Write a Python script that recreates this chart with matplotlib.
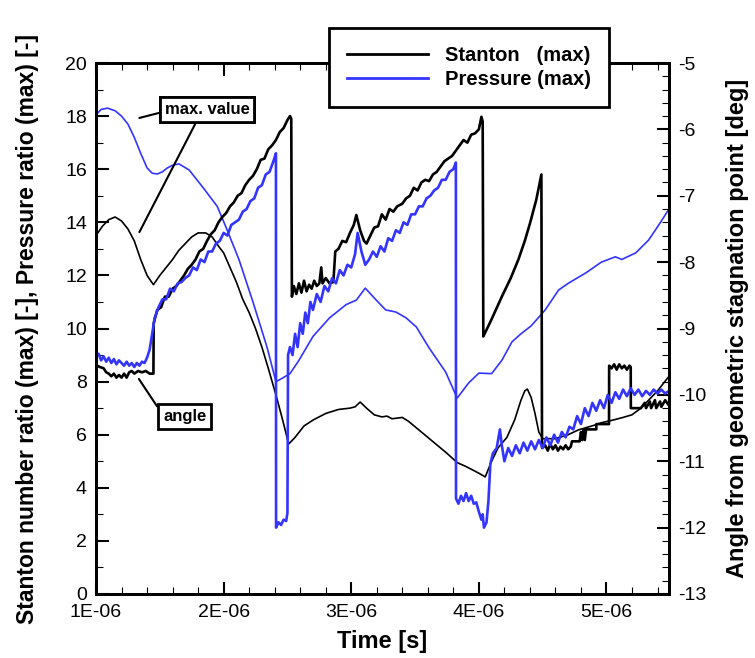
import numpy as np
import matplotlib
matplotlib.use("Agg")
import matplotlib.pyplot as plt

plt.rcParams['font.family'] = ['Liberation Sans', 'DejaVu Sans']
plt.rcParams['axes.unicode_minus'] = False

# --- data (time in microseconds) ---
# Stanton number ratio (max), left axis
t_st_max = [1.00, 1.05, 1.10, 1.15, 1.20, 1.25, 1.30, 1.35, 1.40, 1.45, 1.50, 1.55, 1.60, 1.65, 1.70,
            1.75, 1.80, 1.86, 1.91, 1.96, 2.00, 2.05, 2.10, 2.15, 2.20, 2.25, 2.30, 2.35, 2.41, 2.46,
            2.51, 2.56, 2.63, 2.70, 2.80, 2.90, 2.99, 3.03, 3.07, 3.12, 3.18, 3.24, 3.28, 3.32, 3.40,
            3.45, 3.55, 3.65, 3.75, 3.83, 3.90, 4.00, 4.05, 4.10, 4.15, 4.22, 4.28, 4.33, 4.36, 4.38,
            4.41, 4.44, 4.47, 4.50, 4.60, 4.70, 4.78, 4.90, 4.96, 5.05, 5.13, 5.20, 5.27, 5.33, 5.40,
            5.49]
st_max = [13.5, 13.85, 14.1, 14.2, 14.05, 13.75, 13.3, 12.6, 12.0, 11.65, 12.0, 12.3, 12.6, 12.95, 13.2,
          13.45, 13.6, 13.6, 13.45, 13.1, 12.85, 12.3, 11.75, 11.1, 10.6, 10.0, 9.3, 8.5, 7.5, 6.6,
          5.65, 5.9, 6.33, 6.55, 6.8, 6.95, 7.0, 7.05, 7.23, 7.0, 6.75, 6.67, 6.7, 6.6, 6.65,
          6.5, 6.1, 5.7, 5.3, 4.95, 4.8, 4.55, 4.41, 5.0, 5.5, 5.9, 6.55, 7.3, 7.65, 7.72,
          7.4, 6.8, 6.1, 5.85, 5.85, 6.0, 6.18, 6.35, 6.45, 6.55, 6.65, 6.75, 7.0, 7.3, 7.65,
          8.2]

# Pressure ratio (max), left axis
t_pr_max = [1.00, 1.04, 1.09, 1.15, 1.20, 1.25, 1.30, 1.35, 1.40, 1.44, 1.48, 1.52, 1.56, 1.60, 1.65,
            1.73, 1.84, 1.95, 2.02, 2.12, 2.23, 2.34, 2.41, 2.45, 2.52, 2.59, 2.70, 2.83, 2.96, 3.04,
            3.11, 3.19, 3.27, 3.35, 3.43, 3.51, 3.61, 3.74, 3.83, 3.92, 4.00, 4.10, 4.18, 4.26, 4.33,
            4.41, 4.52, 4.625, 4.70, 4.84, 4.96, 5.07, 5.12, 5.23, 5.33, 5.41, 5.49]
pr_max = [18.05, 18.25, 18.3, 18.2, 18.0, 17.7, 17.2, 16.6, 16.05, 15.85, 15.82, 15.9, 16.05, 16.15, 16.2,
          15.97, 15.3, 14.6, 13.8, 12.6, 11.0, 9.3, 8.0, 8.1, 8.3, 8.8, 9.7, 10.4, 10.9, 11.07,
          11.52, 11.1, 10.7, 10.62, 10.4, 10.06, 9.27, 8.36, 7.38, 7.95, 8.32, 8.3, 8.8, 9.5, 9.8,
          10.1, 10.7, 11.45, 11.7, 12.1, 12.5, 12.7, 12.6, 12.85, 13.33, 13.9, 14.5]

# Stanton max location angle [deg], right axis
t_st_ang = [1.00, 1.03, 1.06, 1.08, 1.10, 1.12, 1.14, 1.16, 1.18, 1.20, 1.22, 1.24, 1.26, 1.28, 1.30,
            1.33, 1.36, 1.39, 1.42, 1.45,
            1.452, 1.48, 1.51, 1.54, 1.57, 1.60, 1.63, 1.66, 1.69, 1.72, 1.75, 1.78, 1.81, 1.84, 1.87,
            1.90, 1.93, 1.96, 1.99, 2.02, 2.05, 2.08, 2.11, 2.14, 2.17, 2.20, 2.23, 2.26, 2.29, 2.32,
            2.35, 2.38, 2.41, 2.44, 2.47, 2.50, 2.52, 2.53,
            2.535, 2.55, 2.57, 2.59, 2.61, 2.63, 2.65, 2.67, 2.69, 2.71, 2.73, 2.75, 2.765, 2.775, 2.80,
            2.83, 2.86, 2.875, 2.90, 2.93, 2.96, 2.99, 3.02, 3.04, 3.07, 3.10, 3.12, 3.15, 3.18, 3.21,
            3.24, 3.27, 3.30, 3.33, 3.36, 3.40, 3.43, 3.46, 3.49, 3.52, 3.55, 3.58, 3.61, 3.64, 3.67,
            3.70, 3.73, 3.76, 3.79, 3.82, 3.85, 3.88, 3.91, 3.94, 3.97, 4.00, 4.02, 4.03,
            4.035, 4.10, 4.18, 4.25, 4.31, 4.36, 4.40, 4.45, 4.49,
            4.495, 4.52, 4.54, 4.56, 4.58, 4.60, 4.62, 4.64, 4.66, 4.68, 4.70, 4.72, 4.73, 4.79, 4.80,
            4.81, 4.82, 4.83, 4.84, 4.85, 4.92, 4.921, 5.02, 5.021, 5.04, 5.06, 5.08, 5.10, 5.12, 5.14,
            5.16, 5.18, 5.19, 5.191, 5.24, 5.27, 5.30, 5.31, 5.34, 5.35, 5.38, 5.39, 5.42, 5.43, 5.46,
            5.49]
st_ang = [-9.55, -9.58, -9.60, -9.66, -9.68, -9.72, -9.68, -9.74, -9.70, -9.74, -9.68, -9.74, -9.66, -9.64, -9.68,
          -9.64, -9.66, -9.64, -9.68, -9.68,
          -8.92, -8.72, -8.68, -8.52, -8.52, -8.40, -8.36, -8.28, -8.20, -8.10, -8.04, -7.96, -7.84, -7.80, -7.68,
          -7.58, -7.52, -7.40, -7.32, -7.26, -7.16, -7.10, -7.00, -6.96, -6.84, -6.76, -6.70, -6.60, -6.46, -6.44,
          -6.30, -6.24, -6.16, -6.04, -5.98, -5.86, -5.80, -5.84,
          -8.52, -8.36, -8.48, -8.32, -8.46, -8.28, -8.44, -8.34, -8.40, -8.28, -8.36, -8.32, -8.08, -8.32, -8.24,
          -8.32, -8.30, -7.84, -7.80, -7.68, -7.70, -7.56, -7.44, -7.29, -7.52, -7.68, -7.72, -7.60, -7.48, -7.46,
          -7.28, -7.36, -7.20, -7.24, -7.16, -7.12, -7.04, -7.00, -6.88, -6.92, -6.80, -6.76, -6.78, -6.68, -6.64,
          -6.56, -6.48, -6.44, -6.40, -6.32, -6.24, -6.16, -6.20, -6.08, -6.06, -6.00, -5.81, -5.88,
          -9.12, -8.86, -8.52, -8.24, -7.96, -7.68, -7.42, -7.06, -6.68,
          -10.80, -10.76, -10.84, -10.74, -10.82, -10.76, -10.84, -10.78, -10.82, -10.76, -10.82, -10.78, -10.70, -10.70, -10.56,
          -10.68, -10.52, -10.68, -10.52, -10.52, -10.52, -10.44, -10.44, -9.56, -9.60, -9.54, -9.62, -9.54, -9.60, -9.56,
          -9.62, -9.56, -9.58, -10.20, -10.20, -10.20, -10.12, -10.20, -10.10, -10.20, -10.08, -10.20, -10.10, -10.18, -10.08,
          -10.16]

# Pressure max location angle [deg], right axis
t_pr_ang = [1.00, 1.02, 1.04, 1.06, 1.08, 1.10, 1.12, 1.14, 1.16, 1.18, 1.20, 1.22, 1.24, 1.26, 1.28,
            1.30, 1.32, 1.34, 1.36, 1.38, 1.40, 1.42, 1.44, 1.46, 1.49, 1.52,
            1.55, 1.58, 1.61, 1.64, 1.67, 1.70, 1.73, 1.76, 1.79, 1.82, 1.85, 1.88, 1.91, 1.94, 1.97,
            2.00, 2.03, 2.06, 2.09, 2.12, 2.15, 2.18, 2.21, 2.24, 2.27, 2.30, 2.33, 2.36, 2.39, 2.41,
            2.411, 2.43, 2.45, 2.47, 2.49, 2.50,
            2.505, 2.52, 2.54, 2.56, 2.58, 2.60, 2.62, 2.64, 2.66, 2.68, 2.70, 2.73, 2.76, 2.79, 2.82,
            2.85, 2.88, 2.91, 2.94, 2.97, 3.00, 3.03, 3.05, 3.08, 3.11, 3.14, 3.17, 3.20, 3.23, 3.26,
            3.29, 3.32, 3.35, 3.38, 3.41, 3.44, 3.47, 3.50, 3.53, 3.56, 3.59, 3.62, 3.65, 3.68, 3.71,
            3.74, 3.77, 3.80, 3.82,
            3.821, 3.84, 3.86, 3.88, 3.90, 3.92, 3.94, 3.96, 3.98, 4.00, 4.02, 4.03, 4.04, 4.06, 4.075,
            4.09, 4.11, 4.14, 4.165, 4.18, 4.20, 4.23, 4.26, 4.29, 4.32, 4.35, 4.38, 4.41, 4.44, 4.47,
            4.50, 4.53, 4.56, 4.59, 4.62, 4.65, 4.68, 4.71, 4.74, 4.77, 4.80, 4.83, 4.86, 4.89, 4.92,
            4.95, 4.98, 5.01, 5.04, 5.07, 5.10, 5.13, 5.16, 5.19, 5.22, 5.25, 5.28, 5.31, 5.34, 5.37,
            5.40, 5.43, 5.46, 5.49]
pr_ang = [-9.42, -9.38, -9.48, -9.42, -9.50, -9.44, -9.52, -9.46, -9.54, -9.48, -9.52, -9.56, -9.50, -9.56, -9.52,
          -9.58, -9.52, -9.56, -9.50, -9.52, -9.44, -9.32, -9.08, -8.84, -8.68, -8.56,
          -8.56, -8.40, -8.44, -8.32, -8.30, -8.24, -8.20, -8.08, -8.12, -7.96, -8.00, -7.84, -7.84, -7.72, -7.68,
          -7.56, -7.60, -7.44, -7.40, -7.36, -7.24, -7.20, -7.08, -7.04, -6.88, -6.84, -6.68, -6.64, -6.48, -6.36,
          -12.00, -11.92, -11.96, -11.88, -11.90, -11.78,
          -9.40, -9.28, -9.40, -9.08, -9.28, -8.92, -9.08, -8.76, -8.92, -8.60, -8.72, -8.48, -8.60, -8.36, -8.44,
          -8.24, -8.32, -8.12, -8.20, -8.04, -8.08, -7.88, -7.56, -7.84, -8.04, -7.96, -7.84, -7.92, -7.76, -7.84,
          -7.64, -7.68, -7.52, -7.56, -7.40, -7.44, -7.28, -7.28, -7.16, -7.16, -7.04, -7.00, -6.92, -6.88, -6.76,
          -6.76, -6.64, -6.60, -6.50,
          -11.56, -11.64, -11.52, -11.60, -11.48, -11.60, -11.52, -11.64, -11.62, -11.76, -11.88, -11.80, -12.00, -11.92, -11.60,
          -11.04, -10.88, -10.80, -10.52, -10.76, -11.00, -10.80, -10.92, -10.76, -10.88, -10.72, -10.84, -10.70, -10.82, -10.68,
          -10.80, -10.64, -10.76, -10.60, -10.72, -10.56, -10.64, -10.48, -10.52, -10.32, -10.44, -10.20, -10.32, -10.12, -10.24,
          -10.08, -10.20, -10.00, -10.12, -9.96, -10.06, -9.92, -10.02, -9.90, -10.00, -9.92, -10.02, -9.94, -10.00, -9.92,
          -9.98, -9.92, -9.98, -9.94]

x_ticks = [1, 2, 3, 4, 5]
x_tick_labels = ["1E-06", "2E-06", "3E-06", "4E-06", "5E-06"]

blue = '#3434ff'
us = 1e-6

fig = plt.figure(figsize=(7.55, 6.58), dpi=100)
ax = fig.add_axes([96/755, 64/658, 573/755, 531/658])
ax2 = ax.twinx()

l1, = ax.plot(np.array(t_st_max)*us, st_max, color='black', lw=1.2)
l2, = ax.plot(np.array(t_pr_max)*us, pr_max, color=blue, lw=1.2)
ax2.plot(np.array(t_st_ang)*us, st_ang, color='black', lw=1.9)
ax2.plot(np.array(t_pr_ang)*us, pr_ang, color=blue, lw=1.9)

ax.set_xlim(1.0*us, 5.49*us)
ax.set_ylim(0, 20)
ax2.set_ylim(-13, -5)

ax.set_xticks(np.array(x_ticks)*us)
ax.set_xticklabels(x_tick_labels)
ax.set_xticks(np.arange(1.0, 5.5, 0.2)*us, minor=True)
ax.set_yticks(np.arange(0, 21, 2))
ax.set_yticks(np.arange(0, 21, 1), minor=True)
ax2.set_yticks(np.arange(-13, -4, 1))
ax2.set_yticks(np.arange(-13, -4.9, 0.2), minor=True)

for a in (ax, ax2):
    a.tick_params(which='major', direction='in', length=9, width=1.5, labelsize=14)
    a.tick_params(which='minor', direction='in', length=5, width=0.8)
    for s in a.spines.values():
        s.set_linewidth(2)
ax.tick_params(axis='x', which='both', top=True, pad=7)
ax.tick_params(axis='y', which='both', right=False, pad=6.5)
ax2.tick_params(axis='y', which='both', pad=6.5)

ax.set_xlabel("Time [s]", fontsize=17, fontweight='bold')
ax.xaxis.set_label_coords(0.5, -0.068)
ax.set_ylabel("Stanton number ratio (max) [-], Pressure ratio (max) [-]", fontsize=16.5, fontweight='bold')
ax.yaxis.set_label_coords(-0.1, 0.5)
ax2.set_ylabel("Angle from geometric stagnation point [deg]", fontsize=17, fontweight='bold')
ax2.yaxis.set_label_coords(1.099, 0.5)

leg = fig.legend([l1, l2], ["Stanton   (max)", "Pressure (max)"], loc='upper left',
                 bbox_to_anchor=(329/755, 1 - 28/658), borderaxespad=0,
                 prop={'weight': 'bold', 'size': 14.5},
                 handlelength=4.0, handletextpad=0.85, labelspacing=0.25, borderpad=0.9,
                 fancybox=False, framealpha=1, edgecolor='black')
leg.get_frame().set_linewidth(2)
for h in leg.get_lines():
    h.set_linewidth(2)

box = dict(boxstyle='square,pad=0.3', fc='white', ec='black', lw=2)
line = dict(arrowstyle='-', color='black', lw=1.5, shrinkA=0, shrinkB=0)
ax2.annotate("max. value", xy=(1.34*us, 17.93), xycoords=ax.transData,
             xytext=(1.87*us, 18.23), textcoords=ax.transData, ha='center', va='center',
             fontsize=12, fontweight='bold', bbox=box, arrowprops=dict(line, relpos=(0, 0.4)))
ax2.annotate("max. value", xy=(1.34*us, 13.63), xycoords=ax.transData,
             xytext=(1.87*us, 18.23), textcoords=ax.transData, ha='center', va='center',
             fontsize=12, fontweight='bold', bbox=box, arrowprops=dict(line, relpos=(0.4, 0)))
ax2.annotate("angle", xy=(1.336*us, 8.10), xycoords=ax.transData,
             xytext=(1.695*us, 6.70), textcoords=ax.transData, ha='center', va='center',
             fontsize=12, fontweight='bold', bbox=box, arrowprops=dict(line, relpos=(0, 0.55)))

fig.savefig("out.png", dpi=100)
